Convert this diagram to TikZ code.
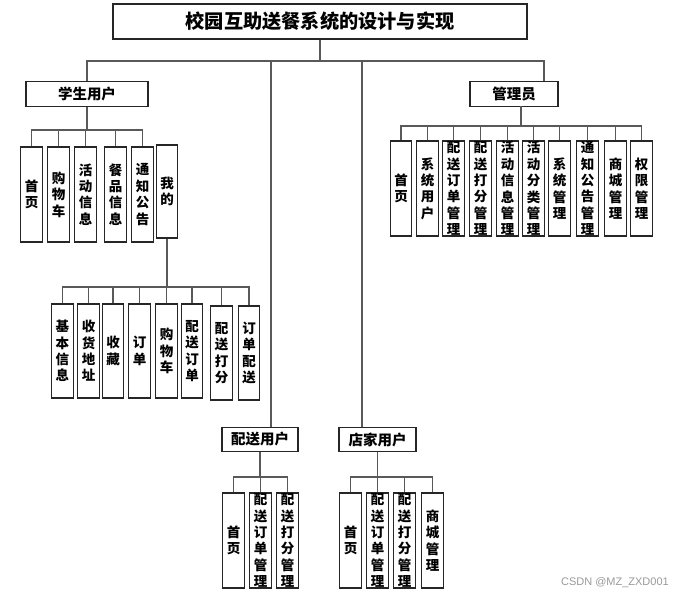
\documentclass[tikz,border=0pt]{standalone}
\usepackage{fontspec}
\newfontfamily\cjk{Noto Sans CJK SC}
\newfontfamily\wmfont{Liberation Sans}
\begin{document}
\begin{tikzpicture}[x=1pt,y=-1pt,
  box/.style={draw=black!85,line width=1.1pt,fill=white,inner sep=0pt,align=center},
  vbox/.style={box,minimum width=21.5pt,minimum height=95pt,font=\cjk\bfseries\fontsize{13.5}{16.4}\selectfont},
  hbox/.style={box,minimum height=24.5pt,font=\cjk\bfseries\fontsize{14.5}{16}\selectfont},
  conn/.style={draw=black!65,line width=1.2pt}]
\useasboundingbox (0,0) rectangle (681,596);
% title
\node[box,minimum width=414pt,minimum height=35pt,font=\cjk\bfseries\fontsize{19.2}{21}\selectfont] (title) at (320,21.5) {校园互助送餐系统的设计与实现};
% second level
\node[hbox,minimum width=122pt] (stu) at (87,94) {学生用户};
\node[hbox,minimum width=88pt] (adm) at (514,94) {管理员};
\node[hbox,minimum width=76pt] (dlv) at (260,439.5) {配送用户};
\node[hbox,minimum width=77pt] (shop) at (377.5,439.5) {店家用户};
% student children
\node[vbox] (s1) at (31.5,194.5) {首\\页};
\node[vbox] (s2) at (58.5,194.5) {购\\物\\车};
\node[vbox] (s3) at (85.5,194.5) {活\\动\\信\\息};
\node[vbox] (s4) at (115.5,194.5) {餐\\品\\信\\息};
\node[vbox] (s5) at (142.5,194.5) {通\\知\\公\\告};
\node[vbox,minimum height=93pt] (s6) at (167,191.5) {我\\的};
% mine children
\node[vbox,minimum height=94pt] (m1) at (62.5,351) {基\\本\\信\\息};
\node[vbox,minimum height=94pt] (m2) at (88.5,351) {收\\货\\地\\址};
\node[vbox,minimum height=94pt] (m3) at (113,351) {收\\藏};
\node[vbox,minimum height=94pt] (m4) at (139.5,351) {订\\单};
\node[vbox,minimum height=94pt] (m5) at (166.5,351) {购\\物\\车};
\node[vbox,minimum height=94pt] (m6) at (192,351) {配\\送\\订\\单};
\node[vbox,minimum height=94pt] (m7) at (221.5,353) {配\\送\\打\\分};
\node[vbox,minimum height=94pt] (m8) at (249,353) {订\\单\\配\\送};
% admin children
\node[vbox] (a1) at (401,188.5) {首\\页};
\node[vbox] (a2) at (427.5,188.5) {系\\统\\用\\户};
\node[vbox] (a3) at (453.5,188.5) {配\\送\\订\\单\\管\\理};
\node[vbox] (a4) at (480.5,188.5) {配\\送\\打\\分\\管\\理};
\node[vbox] (a5) at (507.5,188.5) {活\\动\\信\\息\\管\\理};
\node[vbox] (a6) at (533.5,188.5) {活\\动\\分\\类\\管\\理};
\node[vbox] (a7) at (559.5,188.5) {系\\统\\管\\理};
\node[vbox] (a8) at (587.5,188.5) {通\\知\\公\\告\\管\\理};
\node[vbox] (a9) at (615.5,188.5) {商\\城\\管\\理};
\node[vbox] (a10) at (641.5,188.5) {权\\限\\管\\理};
% delivery children
\node[vbox] (d1) at (233.5,540.5) {首\\页};
\node[vbox] (d2) at (260.5,540.5) {配\\送\\订\\单\\管\\理};
\node[vbox] (d3) at (287.5,540.5) {配\\送\\打\\分\\管\\理};
% shop children
\node[vbox] (p1) at (350.5,540.5) {首\\页};
\node[vbox] (p2) at (377.5,540.5) {配\\送\\订\\单\\管\\理};
\node[vbox] (p3) at (404.5,540.5) {配\\送\\打\\分\\管\\理};
\node[vbox] (p4) at (432.5,540.5) {商\\城\\管\\理};
% bus coordinates
\coordinate (bus) at (0,61);
\coordinate (j1) at (271,61);
\coordinate (j2) at (362,61);
\coordinate (j3) at (544,61);
\coordinate (sbus) at (0,130);
\coordinate (mbus) at (0,287);
\coordinate (abus) at (0,126);
\coordinate (admdrop) at (521,106);
\coordinate (dbus) at (0,477);
% main connectors
\draw[conn] (title.south) -- (title.south |- bus);
\draw[conn] (stu.north) |- (j3) -- (j3 |- adm.north);
\draw[conn] (j1) -- (j1 |- dlv.north);
\draw[conn] (j2) -- (j2 |- shop.north);
% student
\draw[conn] (stu.south) -- (stu.south |- sbus);
\draw[conn] (s1.north) |- (s5.north |- sbus) -- (s5.north);
\foreach \n in {s2,s3,s4} \draw[conn] (\n.north) -- (\n.north |- sbus);
% mine
\draw[conn] (s6.south) -- (s6.south |- mbus);
\draw[conn] (m1.north) |- (m8.north |- mbus) -- (m8.north);
\foreach \n in {m2,m3,m4,m5,m6,m7} \draw[conn] (\n.north) -- (\n.north |- mbus);
% admin
\draw[conn] (admdrop) -- (admdrop |- abus);
\draw[conn] (a1.north) |- (a10.north |- abus) -- (a10.north);
\foreach \n in {a2,a3,a4,a5,a6,a7,a8,a9} \draw[conn] (\n.north) -- (\n.north |- abus);
% delivery
\draw[conn] (dlv.south) -- (dlv.south |- dbus);
\draw[conn] (d1.north) |- (d3.north |- dbus) -- (d3.north);
\draw[conn] (d2.north) -- (d2.north |- dbus);
% shop
\draw[conn] (shop.south) -- (shop.south |- dbus);
\draw[conn] (p1.north) |- (p4.north |- dbus) -- (p4.north);
\foreach \n in {p2,p3} \draw[conn] (\n.north) -- (\n.north |- dbus);
% watermark
\node[font=\wmfont\fontsize{11}{12}\selectfont,text=black!40,anchor=east,inner sep=0pt] (wm) at (669,583) {CSDN @MZ\_ZXD001};
\end{tikzpicture}
\end{document}
